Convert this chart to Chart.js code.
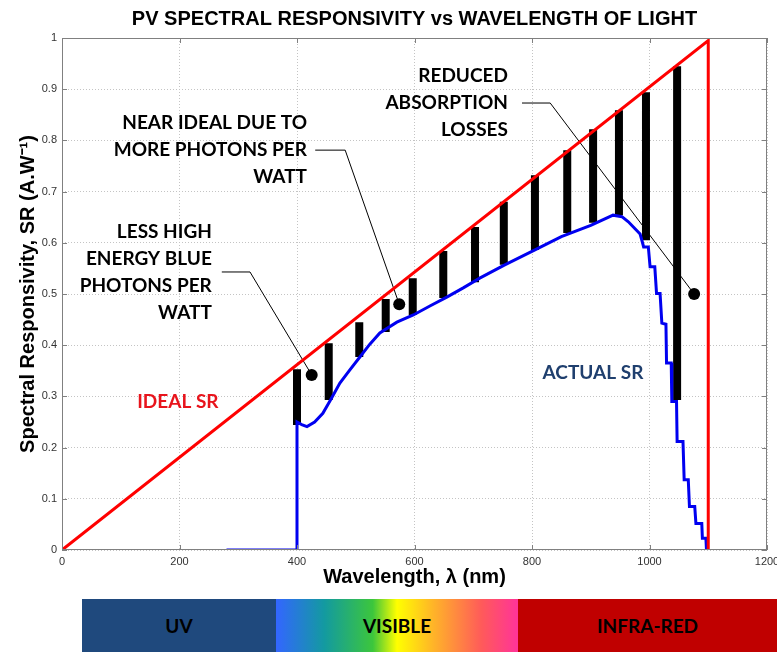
<!DOCTYPE html>
<html>
<head>
<meta charset="utf-8">
<script src="https://cdn.jsdelivr.net/npm/chart.js@4.4.1/dist/chart.umd.min.js"></script>
<style>
  body { margin: 0; background: #fff; }
  #wrap { position: relative; width: 777px; height: 652px; }
  .band { position: absolute; top: 599px; height: 53px; display: flex; align-items: center; justify-content: center;
          font: bold 19px Lato, "Open Sans", sans-serif; color: #000; }
</style>
</head>
<body>
<div id="wrap">
  <canvas id="srChart" width="777" height="652"></canvas>
  <div class="band" style="left:82px;width:194px;background:#1f497d;">UV</div>
  <div class="band" style="left:276px;width:242px;background:linear-gradient(to right,#3366ff 0%,#139aa0 20%,#3cc63c 40%,#ffff00 50%,#ffb428 65%,#ff5a5a 85%,#ff3399 100%);">VISIBLE</div>
  <div class="band" style="left:518px;width:259px;background:#c00000;">INFRA-RED</div>
</div>
<script>
// PV spectral responsivity chart
const ctx = document.getElementById('srChart').getContext('2d');

// Ideal SR (red triangle)
let idealNm = [0, 1100, 1100];
let idealSR = [0, 0.995, 0];

// Actual SR (blue)
let actualNm = [280, 400, 400, 408, 417, 430, 444, 458, 473, 490, 507, 524, 541, 570, 598, 627, 655, 683, 711, 752, 805, 850, 900, 938,
    953, 964, 975, 984, 987, 990, 998, 1001, 1009, 1012, 1018, 1021, 1028, 1029, 1037, 1038, 1046, 1047, 1057, 1059, 1066, 1068,
    1077, 1079, 1089, 1090, 1096, 1097, 1100];
let actualSR = [0, 0, 0.25, 0.245, 0.241, 0.25, 0.267, 0.295, 0.326, 0.352, 0.377, 0.402, 0.424, 0.445, 0.459, 0.477, 0.494, 0.512, 0.531, 0.556, 0.586, 0.612, 0.634, 0.654,
    0.651, 0.641, 0.628, 0.617, 0.605, 0.592, 0.592, 0.553, 0.553, 0.501, 0.501, 0.443, 0.441, 0.365, 0.365, 0.29, 0.29, 0.212, 0.212, 0.137, 0.137, 0.085,
    0.085, 0.052, 0.052, 0.023, 0.023, 0, 0];

// Black loss bars
let barNm = [400, 454, 506, 551, 597, 649, 703, 752, 805, 860, 904, 948, 994, 1047];
let barTop = [0.353, 0.404, 0.445, 0.49, 0.531, 0.584, 0.631, 0.68, 0.732, 0.781, 0.822, 0.859, 0.894, 0.945];
let barBottom = [0.244, 0.293, 0.377, 0.426, 0.459, 0.492, 0.523, 0.557, 0.586, 0.619, 0.639, 0.654, 0.605, 0.293];

// Annotation dots and their leader lines
let dotNm = [425, 574, 1076];
let dotSR = [0.342, 0.48, 0.5];
let leaderNm = [[272, 320, 425], [431, 482, 574], [783, 831, 1076]];
let leaderSR = [[0.543, 0.543, 0.342], [0.781, 0.781, 0.48], [0.873, 0.873, 0.5]];

// Annotation texts (right edge nm, line centres in SR)
let notes = [
    { lines: ['LESS HIGH', 'ENERGY BLUE', 'PHOTONS PER', 'WATT'], nm: 255, sr: [0.621, 0.568, 0.516, 0.463] },
    { lines: ['NEAR IDEAL DUE TO', 'MORE PHOTONS PER', 'WATT'], nm: 417, sr: [0.834, 0.781, 0.729] },
    { lines: ['REDUCED', 'ABSORPTION', 'LOSSES'], nm: 759, sr: [0.926, 0.873, 0.82] }
];
let seriesLabels = [
    { text: 'IDEAL SR', nm: 128, sr: 0.289, color: '#e8141c' },
    { text: 'ACTUAL SR', nm: 818, sr: 0.346, color: '#1f3f6e' }
];

let xTicks = [0, 200, 400, 600, 800, 1000, 1200];
let yTicks = [0, 0.1, 0.2, 0.3, 0.4, 0.5, 0.6, 0.7, 0.8, 0.9, 1];

const toXY = (xs, ys) => xs.map((x, i) => ({ x: x, y: ys[i] }));

let barPoints = [];
barNm.forEach((nm, i) => {
    barPoints.push({ x: nm, y: barBottom[i] }, { x: nm, y: barTop[i] }, { x: nm, y: null });
});
let leaderPoints = [];
leaderNm.forEach((xs, i) => {
    leaderPoints.push(...toXY(xs, leaderSR[i]), { x: xs[2], y: null });
});

// box, inward ticks and text annotations
const decorPlugin = {
    id: 'decor',
    afterDatasetsDraw(chart) {
        const c = chart.ctx;
        const a = chart.chartArea;
        const xs = chart.scales.x, ys = chart.scales.y;
        c.save();
        c.strokeStyle = '#808080';
        c.lineWidth = 1;
        c.strokeRect(a.left + 0.5, a.top + 0.5, a.right - a.left - 1, a.bottom - a.top - 1);
        c.beginPath();
        xTicks.forEach(v => {
            const px = Math.round(xs.getPixelForValue(v)) + 0.5;
            c.moveTo(px, a.bottom); c.lineTo(px, a.bottom - 5);
            c.moveTo(px, a.top); c.lineTo(px, a.top + 5);
        });
        yTicks.forEach(v => {
            const py = Math.round(ys.getPixelForValue(v)) + 0.5;
            c.moveTo(a.left, py); c.lineTo(a.left + 5, py);
            c.moveTo(a.right, py); c.lineTo(a.right - 5, py);
        });
        c.stroke();

        c.textBaseline = 'middle';
        c.fillStyle = '#000';
        c.font = 'bold 19px Lato, "Open Sans", sans-serif';
        c.textAlign = 'right';
        notes.forEach(n => {
            n.lines.forEach((t, i) => {
                c.fillText(t, xs.getPixelForValue(n.nm), ys.getPixelForValue(n.sr[i]));
            });
        });
        c.textAlign = 'left';
        seriesLabels.forEach(l => {
            c.fillStyle = l.color;
            c.fillText(l.text, xs.getPixelForValue(l.nm), ys.getPixelForValue(l.sr));
        });
        c.restore();
    }
};

let srChart = new Chart(ctx, {
    type: 'line',
    data: {
        datasets: [
            { label: 'Ideal SR', data: toXY(idealNm, idealSR), borderColor: '#ff0000', borderWidth: 3, pointRadius: 0, order: 1 },
            { label: 'Actual SR', data: toXY(actualNm, actualSR), borderColor: '#0000f0', borderWidth: 3, pointRadius: 0, order: 2 },
            { label: 'dots', data: toXY(dotNm, dotSR), showLine: false, pointRadius: 6, pointBackgroundColor: '#000', pointBorderWidth: 0, order: 3 },
            { label: 'leaders', data: leaderPoints, borderColor: '#000', borderWidth: 1, pointRadius: 0, spanGaps: false, order: 4 },
            { label: 'losses', data: barPoints, borderColor: '#000', borderWidth: 8, borderCapStyle: 'butt', pointRadius: 0, spanGaps: false, order: 5 }
        ]
    },
    options: {
        responsive: false,
        animation: false,
        layout: { padding: { left: 0, right: 10, top: 0, bottom: 54 } },
        scales: {
            x: {
                type: 'linear', min: 0, max: 1200,
                afterBuildTicks: s => { s.ticks = xTicks.map(v => ({ value: v })); },
                afterFit: s => { s.height = 48; s.paddingLeft = 0; s.paddingRight = 0; },
                ticks: { color: '#333', font: { family: 'Liberation Sans, Arial', size: 11 }, padding: 5, maxRotation: 0,
                         callback: v => String(v) },
                grid: { color: '#c4c4c4', drawTicks: false },
                border: { display: false, dash: [1, 2] },
                title: { display: true, text: 'Wavelength, λ (nm)', color: '#000',
                         font: { family: 'Liberation Sans Narrow, Liberation Sans, Arial', size: 20, weight: 'bold' }, padding: { top: 0, bottom: 9 } }
            },
            y: {
                type: 'linear', min: 0, max: 1,
                afterBuildTicks: s => { s.ticks = yTicks.map(v => ({ value: v })); },
                afterFit: s => { s.width = 62; s.paddingTop = 0; s.paddingBottom = 0; },
                ticks: { color: '#333', font: { family: 'Liberation Sans, Arial', size: 11 }, padding: 5,
                         callback: v => String(v) },
                grid: { color: '#c4c4c4', drawTicks: false },
                border: { display: false, dash: [1, 2] },
                title: { display: true, text: 'Spectral Responsivity, SR (A.W⁻¹)', color: '#000',
                         font: { family: 'Liberation Sans Narrow, Liberation Sans, Arial', size: 20, weight: 'bold' }, padding: { top: 16, bottom: 0 } }
            }
        },
        plugins: {
            legend: { display: false },
            tooltip: { enabled: false },
            title: {
                display: true, fullSize: false,
                text: 'PV SPECTRAL RESPONSIVITY vs WAVELENGTH OF LIGHT',
                color: '#000',
                font: { family: 'Liberation Sans Narrow, Liberation Sans, Arial', size: 20, weight: 'bold' },
                padding: { top: 7, bottom: 7 }
            }
        }
    },
    plugins: [decorPlugin]
});
</script>
</body>
</html>
